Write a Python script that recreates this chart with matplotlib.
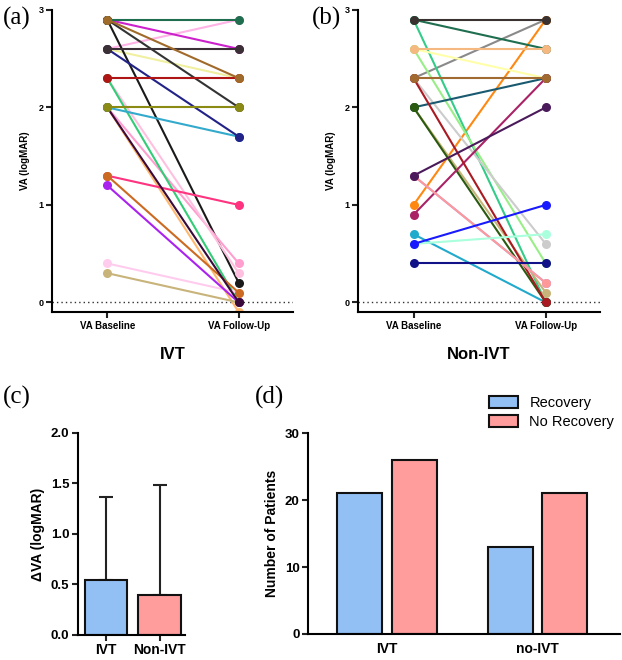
import matplotlib
matplotlib.use("Agg")
from matplotlib import pyplot as plt
import numpy as np

plt.rcParams['font.family'] = ['Liberation Sans', 'DejaVu Sans']

# panel (a): IVT, baseline -> follow-up (logMAR)
ivt_base = [2.6, 2.9, 2.6, 2.9, 2.9, 2.0, 2.0, 2.3, 2.3, 0.3, 0.4,
            1.3, 1.2, 1.3, 2.0, 2.0, 2.6, 2.9, 2.6, 2.3, 2.9, 2.0]
ivt_follow = [2.9, 2.6, 2.3, 2.0, 0.2, -0.1, 0.4, 0.3, 0.0, 0.0, 0.1,
              1.0, 0.0, 0.1, 0.0, 1.7, 1.7, 2.9, 2.6, 2.3, 2.3, 2.0]
ivt_colors = ['#ffb3e6', '#cc22cc', '#f0f0a0', '#333333', '#1a1a1a', '#ffb870',
              '#ff9ecf', '#ffc0e0', '#33cc77', '#c8b47a', '#ffccee', '#ff3380',
              '#aa22ee', '#cc6a22', '#3a0a3a', '#33aacc', '#222288', '#1f6e50',
              '#3a3035', '#b01515', '#a06a2a', '#8a8a15']

# panel (b): Non-IVT
non_base = [2.3, 1.0, 2.9, 2.9, 2.9, 2.6, 2.6, 2.6, 2.3, 0.7, 2.0,
            2.0, 2.0, 0.9, 2.3, 2.3, 1.3, 1.3, 1.3, 0.6, 0.6, 0.4]
non_follow = [2.9, 2.9, 2.6, 0.0, 2.9, 2.3, 0.4, 2.6, 0.6, 0.0, 0.1,
              2.3, 0.0, 2.3, 0.0, 2.3, 0.2, 0.2, 2.0, 0.7, 1.0, 0.4]
non_colors = ['#8a8a8a', '#ff8811', '#1f6e50', '#33cc88', '#3a3230', '#ffffaa',
              '#99ee88', '#f5b880', '#cccccc', '#22aacc', '#c8b47a', '#1a5a70',
              '#2a5a10', '#aa2266', '#aa1a22', '#a06a30', '#9999ff', '#ff9999',
              '#4a1a5a', '#aaffdd', '#1a1aff', '#111188']

# panel (c)
groups_c = ['IVT', 'Non-IVT']
delta_va = [0.54, 0.40]
delta_sd = [0.83, 1.08]

# panel (d)
groups_d = ['IVT', 'no-IVT']
recovery = [21, 13]
no_recovery = [26, 21]

blue = '#92c0f5'
pink = '#ff9c9c'

fig = plt.figure(figsize=(6.22, 6.6), dpi=100)


def style_axes(ax, lw=1.5):
    ax.spines['top'].set_visible(False)
    ax.spines['right'].set_visible(False)
    ax.spines['left'].set_linewidth(lw)
    ax.spines['bottom'].set_linewidth(lw)
    ax.tick_params(width=lw, color='#222222')


def va_panel(rect, base, follow, colors, title, letter, lx):
    ax = fig.add_axes(rect)
    for b, f, c in zip(base, follow, colors):
        ax.plot([0, 1], [b, f], color=c, lw=1.5, marker='o', ms=6.5,
                markeredgewidth=0, solid_capstyle='round')
    ax.axhline(0, color='#333333', lw=1.0, ls=(0, (1, 2.2)), zorder=0)
    ax.set_xlim(-0.42, 1.41)
    ax.set_ylim(-0.1, 3.0)
    ax.set_yticks([0, 1, 2, 3])
    ax.set_yticklabels(['0', '1', '2', '3'], fontsize=6.5, fontweight='bold')
    ax.set_xticks([0, 1])
    ax.set_xticklabels(['VA Baseline', 'VA Follow-Up'], fontsize=7,
                       fontweight='bold')
    ax.tick_params(length=4, pad=2)
    ax.set_ylabel('VA (logMAR)', fontsize=7, fontweight='bold', labelpad=6)
    ax.set_xlabel(title, fontsize=12, fontweight='bold', labelpad=12)
    style_axes(ax)
    fig.text(lx, 0.99, letter, fontsize=18, family='Liberation Serif',
             va='top', ha='left')
    return ax


va_panel([0.0836, 0.527, 0.387, 0.458], ivt_base, ivt_follow, ivt_colors,
         'IVT', '(a)', 0.005)
va_panel([0.5756, 0.527, 0.389, 0.458], non_base, non_follow, non_colors,
         'Non-IVT', '(b)', 0.502)

# panel (c)
axc = fig.add_axes([0.125, 0.038, 0.172, 0.306])
xc = np.arange(len(groups_c))
axc.bar(xc, delta_va, width=0.8, color=[blue, pink], edgecolor='#111111',
        linewidth=1.5, zorder=2)
axc.errorbar(xc, delta_va, yerr=[[0, 0], delta_sd], fmt='none',
             ecolor='#222222', elinewidth=1.5, capsize=5, capthick=1.5,
             zorder=1)
axc.set_xlim(-0.53, 1.47)
axc.set_ylim(0, 2.0)
axc.set_yticks([0, 0.5, 1.0, 1.5, 2.0])
axc.set_yticklabels(['0.0', '0.5', '1.0', '1.5', '2.0'], fontsize=9.5,
                    fontweight='bold')
axc.set_xticks(xc)
axc.set_xticklabels(groups_c, fontsize=10, fontweight='bold')
axc.tick_params(length=4, pad=2)
axc.set_ylabel('ΔVA (logMAR)', fontsize=10, fontweight='bold')
style_axes(axc)
fig.text(0.005, 0.415, '(c)', fontsize=18, family='Liberation Serif',
         va='top', ha='left')

# panel (d)
axd = fig.add_axes([0.495, 0.0394, 0.502, 0.3045])
xd = np.arange(len(groups_d))
axd.bar(xd - 0.18, recovery, width=0.3, color=blue, edgecolor='#111111',
        linewidth=1.5, label='Recovery')
axd.bar(xd + 0.18, no_recovery, width=0.3, color=pink, edgecolor='#111111',
        linewidth=1.5, label='No Recovery')
axd.set_xlim(-0.527, 1.553)
axd.set_ylim(0, 30)
axd.set_yticks([0, 10, 20, 30])
axd.set_yticklabels(['0', '10', '20', '30'], fontsize=9.5, fontweight='bold')
axd.set_xticks(xd)
axd.set_xticklabels(groups_d, fontsize=10, fontweight='bold')
axd.tick_params(axis='x', length=0, pad=6)
axd.tick_params(axis='y', length=4, pad=2)
axd.set_ylabel('Number of Patients', fontsize=10, fontweight='bold')
style_axes(axd)
axd.legend(loc='lower right', bbox_to_anchor=(1.0, 0.99), frameon=False,
           fontsize=10.5, handlelength=2.0, handleheight=0.9,
           borderaxespad=0, labelspacing=0.35)
fig.text(0.41, 0.415, '(d)', fontsize=18, family='Liberation Serif',
         va='top', ha='left')

fig.savefig('out.png', dpi=100)
